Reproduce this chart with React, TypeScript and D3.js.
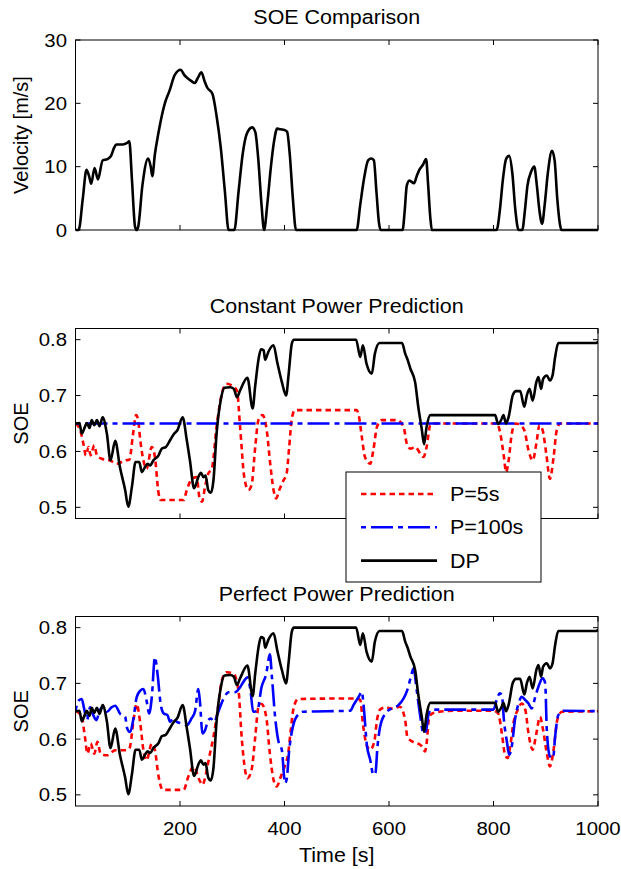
import React from "react";
import * as d3 from "d3";

// velocity profile [s] / [m/s]
const velT = [0, 6, 14, 21, 26, 30, 36.5, 43, 52, 61, 68, 74, 78, 91, 98, 103, 108, 114, 117, 120, 128, 139, 144, 147, 152, 158, 171, 180, 190, 201.5, 208, 214, 222, 228, 234, 241, 247, 252, 262, 270, 278, 286, 293, 304, 312, 320, 327, 338, 344, 350, 356, 361, 367, 374, 380, 386, 392, 400, 405, 410, 416, 422, 538, 545, 552, 560, 566, 571, 576, 581, 584, 626, 630, 634, 639, 648, 653, 658, 665, 671, 675, 679, 682, 806, 812, 818, 824, 830, 836, 842, 848, 855, 860, 865, 872, 878, 883, 888, 893, 898, 904, 912, 917, 922, 927, 930, 1000];
const velV = [0, 0, 5, 9.5, 8.5, 7.3, 9.8, 8, 11, 11.2, 11.7, 13, 13.5, 13.5, 13.7, 14, 8, 0.5, 0, 0.5, 7, 11.3, 10, 8.5, 12, 15, 20, 22, 24.5, 25.3, 24.5, 24, 23.5, 23.2, 24, 24.9, 23.5, 22.5, 21.5, 18, 13, 6, 0, 0, 6, 12, 15, 16.2, 15.5, 11, 4, 0, 4, 10, 14, 16, 15.9, 15.8, 15.5, 12, 5, 0, 0, 4, 8, 11, 11.3, 11, 6, 1, 0, 0, 3, 7, 7.8, 7.4, 8.5, 9.5, 10.3, 11.2, 7, 2, 0, 0, 3, 8, 11.2, 11.7, 9, 3, 0, 0, 3, 7, 9.2, 10, 7, 3, 1, 4, 9, 12.5, 11, 5, 1, 0, 0];

// DP (same in both prediction panels)
const dpT = [0, 7.5, 12, 18, 21.5, 27, 31, 36, 41, 46, 52, 60, 67, 76, 85, 95, 101, 108, 115, 122, 127, 133, 138, 143, 149, 159, 165, 173, 181, 189, 195, 205, 213, 219, 227, 235, 240, 245, 249, 254, 259, 264, 270, 278, 285, 296, 303, 309, 315, 329, 339, 344, 351, 355, 360, 363, 369, 379, 386, 395, 403, 408, 414, 418, 537, 545, 550, 557, 567, 573, 582, 625, 631, 636, 641, 650, 656, 663, 667, 672, 679, 803, 809, 816, 819, 824, 829, 837, 843, 851, 859, 864, 869, 875, 882, 886, 891, 895, 902, 908, 913, 918, 924, 997, 1000];
const dpV = [0.65, 0.651, 0.632, 0.644, 0.651, 0.642, 0.656, 0.647, 0.656, 0.645, 0.661, 0.632, 0.584, 0.619, 0.572, 0.531, 0.501, 0.537, 0.581, 0.581, 0.563, 0.572, 0.578, 0.575, 0.584, 0.593, 0.605, 0.608, 0.62, 0.632, 0.638, 0.661, 0.62, 0.584, 0.534, 0.554, 0.562, 0.554, 0.557, 0.531, 0.526, 0.548, 0.632, 0.692, 0.714, 0.715, 0.712, 0.697, 0.709, 0.732, 0.677, 0.718, 0.769, 0.783, 0.781, 0.764, 0.778, 0.79, 0.76, 0.724, 0.7, 0.739, 0.793, 0.8, 0.8, 0.769, 0.79, 0.757, 0.739, 0.775, 0.794, 0.794, 0.775, 0.763, 0.748, 0.724, 0.68, 0.638, 0.613, 0.644, 0.665, 0.665, 0.649, 0.659, 0.665, 0.65, 0.662, 0.701, 0.708, 0.708, 0.68, 0.701, 0.712, 0.691, 0.724, 0.733, 0.712, 0.73, 0.736, 0.727, 0.736, 0.769, 0.794, 0.794, 0.797];

// constant power prediction, P=5s
const cp5T = [0, 9, 15, 20, 25, 29, 36, 41, 50, 66, 79, 95, 103, 110, 116, 120, 124, 130, 136, 146, 152, 159, 163, 207, 213, 223, 232, 237, 242, 248, 254, 261, 270, 280, 289, 299, 309, 315, 323, 331, 337, 344, 350, 358, 366, 372, 379, 384, 390, 398, 404, 409, 414, 420, 538, 542, 548, 554, 564, 570, 577, 586, 615, 628, 634, 641, 650, 660, 666, 672, 679, 688, 807, 813, 820, 824, 829, 835, 842, 851, 859, 867, 875, 882, 888, 894, 901, 908, 915, 921, 928, 1000];
const cp5V = [0.65, 0.638, 0.614, 0.593, 0.608, 0.593, 0.611, 0.593, 0.587, 0.584, 0.578, 0.584, 0.585, 0.63, 0.665, 0.655, 0.62, 0.584, 0.569, 0.608, 0.59, 0.525, 0.513, 0.513, 0.531, 0.551, 0.554, 0.519, 0.51, 0.537, 0.56, 0.569, 0.644, 0.703, 0.721, 0.718, 0.709, 0.644, 0.554, 0.531, 0.54, 0.608, 0.656, 0.665, 0.638, 0.584, 0.531, 0.516, 0.531, 0.548, 0.56, 0.608, 0.659, 0.674, 0.674, 0.665, 0.626, 0.59, 0.578, 0.602, 0.644, 0.656, 0.656, 0.644, 0.614, 0.605, 0.608, 0.596, 0.59, 0.608, 0.647, 0.65, 0.65, 0.632, 0.59, 0.563, 0.584, 0.632, 0.65, 0.647, 0.638, 0.602, 0.584, 0.614, 0.647, 0.638, 0.596, 0.551, 0.59, 0.638, 0.65, 0.65];

// constant power prediction, P=100s
const cp100T = [0, 1000];
const cp100V = [0.65, 0.65];

// perfect power prediction, P=5s
const pp5T = [0, 12, 18, 23, 29, 36, 42, 48, 60, 76, 92, 103, 112, 117, 124, 130, 136, 146, 152, 159, 167, 207, 216, 226, 237, 243, 250, 256, 264, 272, 280, 289, 302, 312, 318, 325, 329, 337, 344, 350, 356, 365, 372, 379, 385, 393, 401, 407, 412, 417, 426, 538, 545, 550, 558, 564, 572, 577, 583, 593, 605, 621, 631, 635, 644, 653, 663, 669, 672, 677, 685, 723, 800, 809, 816, 822, 827, 832, 838, 846, 854, 861, 867, 875, 882, 889, 895, 902, 908, 915, 922, 931, 1000];
const pp5V = [0.651, 0.64, 0.604, 0.574, 0.592, 0.574, 0.595, 0.574, 0.571, 0.58, 0.58, 0.583, 0.64, 0.663, 0.628, 0.58, 0.562, 0.592, 0.58, 0.533, 0.509, 0.509, 0.533, 0.551, 0.527, 0.518, 0.539, 0.568, 0.604, 0.651, 0.705, 0.72, 0.718, 0.687, 0.604, 0.542, 0.53, 0.545, 0.604, 0.657, 0.663, 0.64, 0.574, 0.527, 0.515, 0.533, 0.553, 0.574, 0.616, 0.654, 0.672, 0.673, 0.67, 0.628, 0.587, 0.581, 0.596, 0.634, 0.653, 0.657, 0.655, 0.658, 0.634, 0.604, 0.596, 0.593, 0.587, 0.578, 0.593, 0.64, 0.647, 0.651, 0.651, 0.646, 0.61, 0.572, 0.566, 0.587, 0.628, 0.652, 0.664, 0.652, 0.61, 0.581, 0.61, 0.64, 0.616, 0.575, 0.551, 0.581, 0.634, 0.649, 0.65];

// perfect power prediction, P=100s
const pp100T = [0, 6, 12, 16, 22, 28, 34, 40, 46, 53, 60, 69, 76, 85, 95, 99, 104, 111, 117, 124, 130, 136, 141, 146, 152, 157, 163, 169, 176, 181, 187, 194, 203, 213, 222, 229, 235, 238, 243, 248, 254, 259, 265, 274, 283, 293, 305, 315, 323, 329, 335, 340, 348, 356, 365, 372, 376, 382, 388, 395, 401, 404, 409, 416, 423, 436, 526, 532, 542, 548, 551, 558, 564, 570, 574, 578, 583, 593, 605, 618, 628, 635, 642, 647, 653, 660, 666, 671, 676, 682, 800, 806, 812, 816, 820, 826, 830, 835, 841, 848, 854, 861, 867, 873, 880, 886, 894, 899, 902, 908, 914, 918, 924, 934, 1000];
const pp100V = [0.651, 0.669, 0.672, 0.657, 0.634, 0.657, 0.643, 0.634, 0.651, 0.657, 0.649, 0.657, 0.66, 0.646, 0.64, 0.619, 0.613, 0.637, 0.675, 0.687, 0.69, 0.669, 0.646, 0.675, 0.747, 0.717, 0.663, 0.646, 0.643, 0.631, 0.637, 0.631, 0.628, 0.625, 0.637, 0.651, 0.69, 0.669, 0.61, 0.616, 0.634, 0.637, 0.631, 0.651, 0.672, 0.684, 0.684, 0.693, 0.705, 0.711, 0.687, 0.649, 0.651, 0.693, 0.717, 0.752, 0.711, 0.64, 0.598, 0.58, 0.521, 0.527, 0.58, 0.622, 0.64, 0.649, 0.651, 0.661, 0.676, 0.685, 0.664, 0.587, 0.563, 0.536, 0.539, 0.587, 0.622, 0.646, 0.655, 0.661, 0.673, 0.688, 0.712, 0.727, 0.688, 0.64, 0.61, 0.616, 0.646, 0.653, 0.653, 0.67, 0.682, 0.679, 0.634, 0.593, 0.572, 0.587, 0.634, 0.664, 0.676, 0.67, 0.664, 0.655, 0.676, 0.694, 0.709, 0.7, 0.616, 0.569, 0.566, 0.605, 0.643, 0.651, 0.65];

const timeTicks = [200, 400, 600, 800, 1000];
const velTicks = [0, 10, 20, 30];
const soeTicks = [0.5, 0.6, 0.7, 0.8];
const legendLabels = ["P=5s", "P=100s", "DP"];

const FONT = "'Liberation Sans', Arial, Helvetica, sans-serif";
const RED = "#ff0000";
const BLUE = "#0000ff";
const RED_DASH = "5.5,4";
const BLUE_DASH = "5,5,22,5";
const LW = 2.6;

const x = d3.scaleLinear().domain([0, 1000]).range([75.5, 598]);

function HText({ x, y, size, anchor = "middle", children }: any) {
  return (
    <text
      transform={`translate(${x},${y}) scale(1.1,1)`}
      fontSize={size}
      textAnchor={anchor}
      fontFamily={FONT}
      fill="#000"
    >
      {children}
    </text>
  );
}

function Panel({ id, top, bottom, yDomain, yTicks, title, ylabel, series, xLabels, fmt }: any) {
  const y = d3.scaleLinear().domain(yDomain).range([bottom, top]);
  const [x0, x1] = x.range();
  const line = (t: number[], v: number[]) =>
    d3.line<number>().x((d, i) => x(t[i])).y((d) => y(d)).curve(d3.curveMonotoneX)(v) || "";
  return (
    <g>
      <clipPath id={id}>
        <rect x={x0} y={top - 2} width={x1 - x0} height={bottom - top + 4} />
      </clipPath>
      <g clipPath={`url(#${id})`}>
        {series.map((s: any, i: number) => (
          <path key={i} d={line(s.t, s.v)} fill="none" stroke={s.color} strokeWidth={LW}
            strokeDasharray={s.dash} strokeLinejoin="round" />
        ))}
      </g>
      <rect x={x0} y={top} width={x1 - x0} height={bottom - top} fill="none" stroke="#000" strokeWidth={1} />
      {timeTicks.map((t) => (
        <g key={t}>
          <line x1={x(t)} x2={x(t)} y1={bottom} y2={bottom - 5} stroke="#000" />
          <line x1={x(t)} x2={x(t)} y1={top} y2={top + 5} stroke="#000" />
          {xLabels && <HText x={x(t)} y={bottom + 29} size={18.5}>{t}</HText>}
        </g>
      ))}
      {yTicks.map((v: number) => (
        <g key={v}>
          <line x1={x0} x2={x0 + 5} y1={y(v)} y2={y(v)} stroke="#000" />
          <line x1={x1} x2={x1 - 5} y1={y(v)} y2={y(v)} stroke="#000" />
          <HText x={x0 - 8.5} y={y(v) + 6.5} size={18.5} anchor="end">{fmt(v)}</HText>
        </g>
      ))}
      <HText x={(x0 + x1) / 2} y={top - 16} size={19.5}>{title}</HText>
      <text transform={`translate(28,${(top + bottom) / 2}) rotate(-90)`} fontSize={20}
        textAnchor="middle" fontFamily={FONT}>{ylabel}</text>
    </g>
  );
}

export default function App() {
  const soeDomain = [0.48, 0.82];
  const legendItems = [
    { color: RED, dash: RED_DASH },
    { color: BLUE, dash: BLUE_DASH },
    { color: "#000", dash: undefined },
  ];
  return (
    <svg width={621} height={869} style={{ position: "absolute", left: 0, top: 0, background: "#fff" }}>
      <rect width={621} height={869} fill="#fff" />
      <Panel id="c1" top={40} bottom={230} yDomain={[0, 30]} yTicks={velTicks}
        title="SOE Comparison" ylabel="Velocity [m/s]" xLabels={false} fmt={(v: number) => String(v)}
        series={[{ t: velT, v: velV, color: "#000" }]} />
      <Panel id="c2" top={328.5} bottom={518.5} yDomain={soeDomain} yTicks={soeTicks}
        title="Constant Power Prediction" ylabel="SOE" xLabels={false} fmt={(v: number) => v.toFixed(1)}
        series={[
          { t: cp5T, v: cp5V, color: RED, dash: RED_DASH },
          { t: cp100T, v: cp100V, color: BLUE, dash: BLUE_DASH },
          { t: dpT, v: dpV, color: "#000" },
        ]} />
      <Panel id="c3" top={616.5} bottom={806} yDomain={soeDomain} yTicks={soeTicks}
        title="Perfect Power Prediction" ylabel="SOE" xLabels={true} fmt={(v: number) => v.toFixed(1)}
        series={[
          { t: pp5T, v: pp5V, color: RED, dash: RED_DASH },
          { t: pp100T, v: pp100V, color: BLUE, dash: BLUE_DASH },
          { t: dpT, v: dpV, color: "#000" },
        ]} />
      <HText x={336.75} y={862} size={19.5}>Time [s]</HText>
      <g>
        <rect x={346} y={472} width={195} height={110} fill="#fff" stroke="#000" strokeWidth={1} />
        {legendLabels.map((lab, i) => (
          <g key={lab}>
            <line x1={361} x2={437} y1={494 + i * 33.3} y2={494 + i * 33.3} stroke={legendItems[i].color}
              strokeWidth={LW} strokeDasharray={legendItems[i].dash} />
            <HText x={450} y={494 + i * 33.3 + 7} size={19.5} anchor="start">{lab}</HText>
          </g>
        ))}
      </g>
    </svg>
  );
}
